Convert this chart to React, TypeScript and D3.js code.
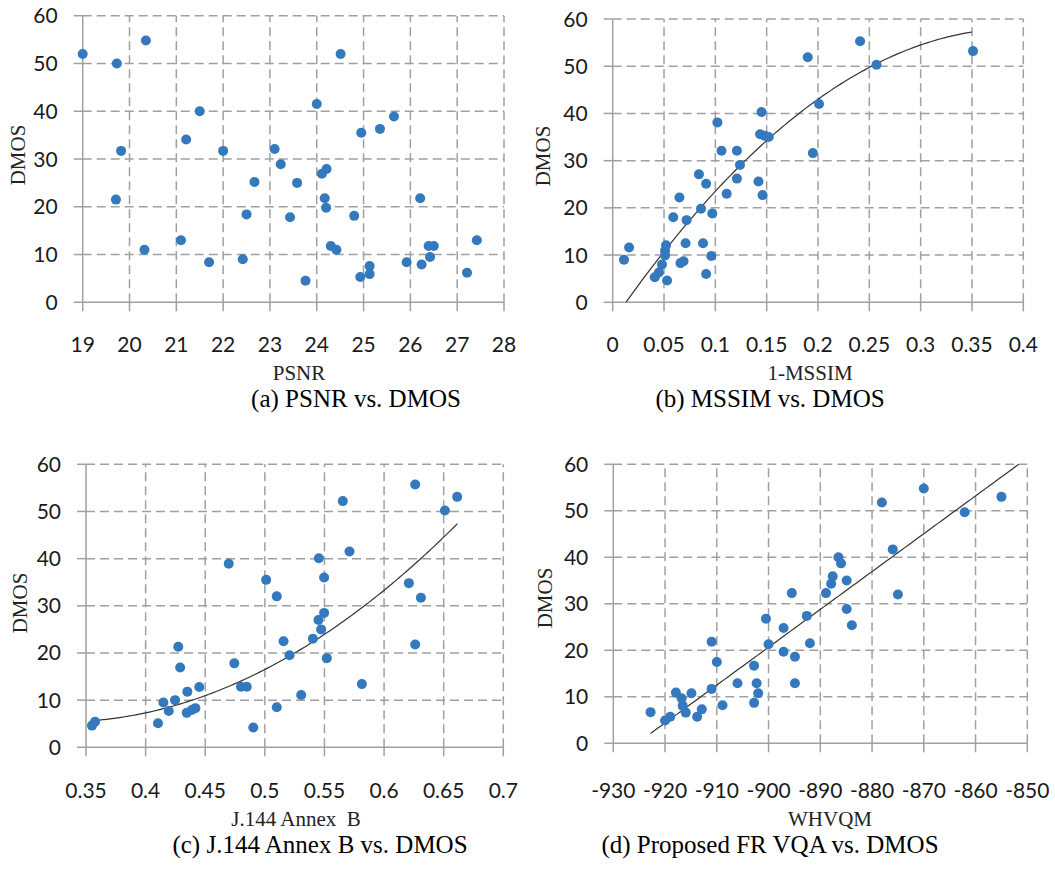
import * as d3 from 'd3';

// (a) PSNR vs DMOS
const psnrX = [19.0, 19.73, 20.35, 21.5, 21.21, 19.82, 22.0, 22.67, 19.71, 22.5, 21.1, 20.32, 21.7, 22.42,
  24.51, 24.0, 25.65, 25.35, 24.95, 23.1, 23.23, 24.11, 24.21, 23.58, 24.17, 26.21, 24.2, 23.43, 24.8,
  24.3, 24.42, 26.39, 26.5, 27.42, 26.42, 25.92, 26.24, 25.13, 25.13, 24.93, 23.76, 27.21];
const psnrY = [52, 50, 54.8, 40, 34.1, 31.7, 31.7, 25.2, 21.5, 18.4, 13, 11, 8.4, 9.0,
  52, 41.5, 38.9, 36.3, 35.5, 32.1, 28.9, 26.9, 27.9, 25.0, 21.8, 21.8, 19.8, 17.8, 18.1,
  11.8, 11.0, 11.8, 11.8, 13, 9.5, 8.4, 7.9, 7.6, 5.9, 5.3, 4.5, 6.2];

// (b) 1-MSSIM vs DMOS
const mssimX = [0.011, 0.016, 0.052, 0.051, 0.051, 0.048, 0.045, 0.041, 0.053, 0.065, 0.059, 0.072, 0.071,
  0.066, 0.069, 0.084, 0.091, 0.086, 0.097, 0.088, 0.096, 0.091, 0.102, 0.106, 0.111, 0.121, 0.124, 0.121,
  0.145, 0.1436, 0.148, 0.152, 0.142, 0.146, 0.19, 0.241, 0.257, 0.201, 0.195, 0.351];
const mssimY = [9.0, 11.6, 12.1, 10.9, 9.9, 8.0, 6.3, 5.3, 4.6, 22.2, 18, 17.4, 12.5, 8.3, 8.7, 27.1, 25.1,
  19.8, 18.8, 12.5, 9.8, 6.0, 38.1, 32.1, 23.0, 32.1, 29.1, 26.2, 40.3, 35.6, 35.3, 35.0, 25.6, 22.7,
  51.9, 55.3, 50.3, 42.0, 31.6, 53.2];
// polynomial trendline (order 2)
const mssimTrend = { a: -4, b: 315, c: -400, from: 0.013, to: 0.35 };

// (c) J.144 Annex B vs DMOS
const j144X = [0.355, 0.3576, 0.4697, 0.4274, 0.429, 0.4744, 0.4149, 0.4194, 0.4247, 0.435, 0.445, 0.4345,
  0.4387, 0.4417, 0.4104, 0.48, 0.4848, 0.4903, 0.6261, 0.6613, 0.651, 0.5654, 0.571, 0.5453, 0.5497,
  0.5011, 0.51, 0.6208, 0.6309, 0.5497, 0.545, 0.5472, 0.5403, 0.5157, 0.5207, 0.552, 0.6261, 0.5814,
  0.5305, 0.51];
const j144Y = [4.6, 5.4, 38.9, 21.3, 16.9, 17.8, 9.5, 7.7, 10.0, 11.8, 12.8, 7.3, 7.9, 8.3, 5.1, 12.85, 12.85,
  4.2, 55.7, 53.1, 50.2, 52.2, 41.5, 40.1, 36.0, 35.5, 32.0, 34.8, 31.7, 28.5, 27.0, 25.0, 23.0, 22.5,
  19.5, 18.9, 21.8, 13.4, 11.1, 8.5];
const j144Trend = { a: 46.5, b: -250, c: 380, from: 0.355, to: 0.6616 };

// (d) WHVQM vs DMOS
const whvqmX = [-922.8, -920, -919, -917.9, -916.8, -916.6, -916, -914.9, -913.8, -912.9, -911, -911, -910,
  -908.9, -906, -902.8, -902.3, -902, -902.8, -900.5, -900, -897.1, -897.1, -895.5, -894.9, -894.9,
  -892.6, -892, -888.9, -887.9, -887.6, -886.5, -886, -884.9, -884.9, -883.9, -878.1, -876, -875, -870,
  -862.1, -855];
const whvqmY = [6.7, 4.9, 5.7, 10.9, 9.7, 8.1, 6.6, 10.75, 5.7, 7.3, 21.85, 11.7, 17.5, 8.2, 12.9, 16.7, 12.9,
  10.75, 8.7, 26.8, 21.3, 24.8, 19.7, 32.3, 18.6, 12.9, 27.4, 21.5, 32.3, 34.3, 35.9, 40, 38.7, 35.0,
  28.9, 25.4, 51.8, 41.7, 32, 54.8, 49.7, 53];
// linear trendline
const whvqmTrend = { a: 752.9, b: 0.8136, c: 0, from: -922.8, to: -851.6 };

const dmosTicks = [0, 10, 20, 30, 40, 50, 60];
const psnrTicks = [19, 20, 21, 22, 23, 24, 25, 26, 27, 28];
const mssimTicks = [0, 0.05, 0.1, 0.15, 0.2, 0.25, 0.3, 0.35, 0.4];
const j144Ticks = [0.35, 0.4, 0.45, 0.5, 0.55, 0.6, 0.65, 0.7];
const whvqmTicks = [-930, -920, -910, -900, -890, -880, -870, -860, -850];

const dotColor = '#3479bd';
const gridColor = '#a0a0a0';
const tickFont = 'Lato, "Open Sans", sans-serif';
const serif = '"Liberation Serif", "Times New Roman", serif';

type Trend = { a: number; b: number; c: number; from: number; to: number };

type PanelProps = {
  xs: number[];
  ys: number[];
  xTicks: number[];
  xRange: [number, number];
  yRange: [number, number];
  trend?: Trend;
  xTitle: string;
  xTitleX: number;
  yTitleX: number;
  yTitleY: number;
  caption: string;
  captionX: number;
  baseY: number; // baseline of the x tick labels, other text rows hang off it
};

function Panel(p: PanelProps) {
  const x = d3.scaleLinear().domain([p.xTicks[0], p.xTicks[p.xTicks.length - 1]]).range(p.xRange);
  const y = d3.scaleLinear().domain([0, 60]).range(p.yRange);
  const [x0, x1] = p.xRange;
  const [y0, y1] = p.yRange;

  let trendPath: string | null = null;
  if (p.trend) {
    const t = p.trend;
    const pts = d3.range(0, 101).map(i => {
      const v = t.from + (t.to - t.from) * i / 100;
      return [v, t.a + t.b * v + t.c * v * v] as [number, number];
    });
    trendPath = d3.line<[number, number]>().x(d => x(d[0])).y(d => y(d[1]))(pts);
  }

  return (
    <g>
      {/* dashed grid */}
      {dmosTicks.filter(v => v > 0).map(v => (
        <line key={'gy' + v} x1={x0} x2={x1} y1={y(v)} y2={y(v)} stroke={gridColor} strokeWidth={1.5} strokeDasharray="9,5" />
      ))}
      {p.xTicks.slice(1).map(v => (
        <line key={'gx' + v} x1={x(v)} x2={x(v)} y1={y0} y2={y1} stroke={gridColor} strokeWidth={1.5} strokeDasharray="9,5" />
      ))}
      {/* axes */}
      <line x1={x0} x2={x0} y1={y0} y2={y1} stroke={gridColor} strokeWidth={1.5} />
      <line x1={x0} x2={x1} y1={y0} y2={y0} stroke={gridColor} strokeWidth={1.5} />
      {p.xTicks.map(v => (
        <line key={'tx' + v} x1={x(v)} x2={x(v)} y1={y0} y2={y0 + 9} stroke={gridColor} strokeWidth={1.5} />
      ))}
      {dmosTicks.map(v => (
        <line key={'ty' + v} x1={x0 - 9} x2={x0} y1={y(v)} y2={y(v)} stroke={gridColor} strokeWidth={1.5} />
      ))}
      {/* tick labels */}
      {dmosTicks.map(v => (
        <text key={'ly' + v} x={x0 - 25} y={y(v) + 7.5} textAnchor="end" fontFamily={tickFont} fontSize={21} fill="#1a1a1a">{v}</text>
      ))}
      {p.xTicks.map(v => (
        <text key={'lx' + v} x={x(v)} y={p.baseY} textAnchor="middle" fontFamily={tickFont} fontSize={21} fill="#1a1a1a">{String(v)}</text>
      ))}
      {/* trend */}
      {trendPath && <path d={trendPath} fill="none" stroke="#333" strokeWidth={1.2} />}
      {/* points */}
      {p.xs.map((v, i) => (
        <circle key={'p' + i} cx={x(v)} cy={y(p.ys[i])} r={5} fill={dotColor} />
      ))}
      {/* titles */}
      <text x={p.xTitleX} y={p.baseY + 28} textAnchor="middle" fontFamily={serif} fontSize={21} fill="#222" style={{ whiteSpace: 'pre' }}>{p.xTitle}</text>
      <text transform={`translate(${p.yTitleX},${p.yTitleY}) rotate(-90)`} textAnchor="middle" fontFamily={serif} fontSize={21} fill="#222">DMOS</text>
      <text x={p.captionX} y={p.baseY + 55} textAnchor="middle" fontFamily={serif} fontSize={25} fill="#000">{p.caption}</text>
    </g>
  );
}

export default function App() {
  return (
    <svg width={1055} height={869} style={{ position: 'absolute', left: 0, top: 0, background: '#fff' }}>
      <Panel xs={psnrX} ys={psnrY} xTicks={psnrTicks} xRange={[82.7, 504]} yRange={[302.3, 15.7]}
        xTitle="PSNR" xTitleX={299} yTitleX={25} yTitleY={155} caption="(a) PSNR vs. DMOS" captionX={356} baseY={352} />
      <Panel xs={mssimX} ys={mssimY} xTicks={mssimTicks} xRange={[612.7, 1023.3]} yRange={[302.3, 19]} trend={mssimTrend}
        xTitle="1-MSSIM" xTitleX={810} yTitleX={550} yTitleY={156} caption="(b) MSSIM vs. DMOS" captionX={770} baseY={352} />
      <Panel xs={j144X} ys={j144Y} xTicks={j144Ticks} xRange={[86, 503.3]} yRange={[747.3, 464.3]} trend={j144Trend}
        xTitle="J.144 Annex  B" xTitleX={296} yTitleX={27} yTitleY={603} caption="(c) J.144 Annex B vs. DMOS" captionX={320} baseY={798} />
      <Panel xs={whvqmX} ys={whvqmY} xTicks={whvqmTicks} xRange={[613.3, 1027.3]} yRange={[743.3, 464.3]} trend={whvqmTrend}
        xTitle="WHVQM" xTitleX={830} yTitleX={552} yTitleY={598} caption="(d) Proposed FR VQA vs. DMOS" captionX={770} baseY={798} />
    </svg>
  );
}
